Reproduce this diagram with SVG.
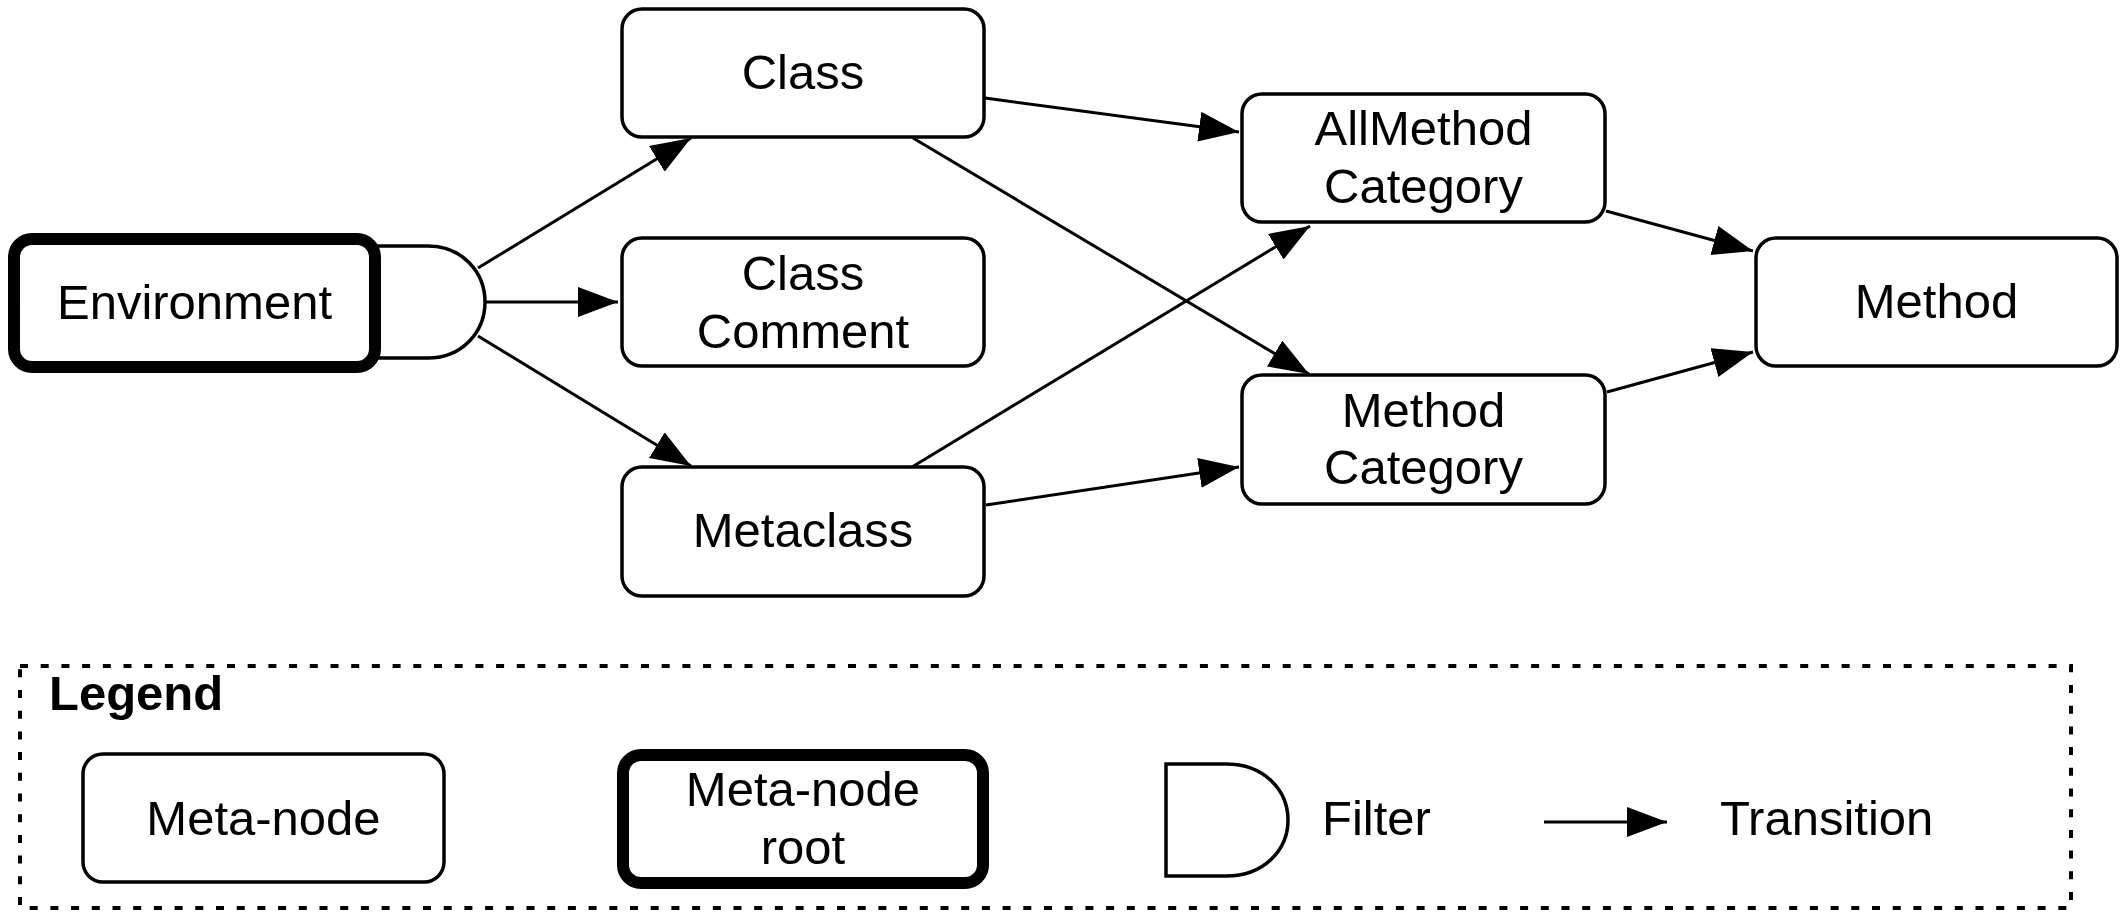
<svg xmlns="http://www.w3.org/2000/svg" width="2125" height="916" viewBox="0 0 2125 916">
<style>
.box{fill:#fff;stroke:#000;stroke-width:3.5}
.root{fill:#fff;stroke:#000;stroke-width:12}
.lbl{font-family:"Liberation Sans",Arial,sans-serif;font-size:49px;fill:#000;text-anchor:middle}
.conn line{stroke:#000;stroke-width:3;marker-end:url(#ah)}
.filter{fill:#fff;stroke:#000;stroke-width:3.5}
</style>
<defs>
<marker id="ah" markerUnits="userSpaceOnUse" markerWidth="42" markerHeight="32" refX="40" refY="15" orient="auto" viewBox="0 0 42 32">
<path d="M0,0 L40,15 L0,30 z" fill="#000"/>
</marker>
</defs>
<rect width="2125" height="916" fill="#fff"/>
<g id="conn" class="conn">
<line x1="478" y1="268" x2="691" y2="138"/>
<line x1="485" y1="302" x2="618" y2="302"/>
<line x1="478" y1="336" x2="691" y2="466"/>
<line x1="985" y1="98" x2="1239" y2="132"/>
<line x1="913" y1="138" x2="1309" y2="374"/>
<line x1="912" y1="467" x2="1310" y2="226"/>
<line x1="986" y1="505" x2="1239" y2="467"/>
<line x1="1606" y1="211" x2="1753" y2="251"/>
<line x1="1607" y1="392" x2="1753" y2="352"/>
</g>
<g id="environment">
<path class="filter" d="M370,246 H428 C462,246 485,272 485,302 C485,332 462,358 428,358 H370"/>
<rect class="root" x="14" y="239" width="361" height="128" rx="18"/>
<text class="lbl" x="194.5" y="319">Environment</text>
</g>
<g id="class">
<rect class="box" x="622" y="9" width="362" height="128" rx="20"/>
<text class="lbl" x="803" y="89">Class</text>
</g>
<g id="classcomment">
<rect class="box" x="622" y="238" width="362" height="128" rx="20"/>
<text class="lbl" x="803" y="290">Class</text>
<text class="lbl" x="803" y="348">Comment</text>
</g>
<g id="metaclass">
<rect class="box" x="622" y="467" width="362" height="129" rx="20"/>
<text class="lbl" x="803" y="547">Metaclass</text>
</g>
<g id="allmethodcategory">
<rect class="box" x="1242" y="94" width="363" height="128" rx="20"/>
<text class="lbl" x="1423.5" y="145">AllMethod</text>
<text class="lbl" x="1423.5" y="203">Category</text>
</g>
<g id="methodcategory">
<rect class="box" x="1242" y="375" width="363" height="129" rx="20"/>
<text class="lbl" x="1423.5" y="427">Method</text>
<text class="lbl" x="1423.5" y="484">Category</text>
</g>
<g id="method">
<rect class="box" x="1756" y="238" width="361" height="128" rx="20"/>
<text class="lbl" x="1936.5" y="318">Method</text>
</g>
<g id="legend">
<rect x="20" y="666" width="2051" height="242" fill="none" stroke="#000" stroke-width="4" stroke-dasharray="8 12.7"/>
<text x="49" y="710" font-family="'Liberation Sans',Arial,sans-serif" font-size="49" font-weight="bold">Legend</text>
<rect class="box" x="83" y="754" width="361" height="128" rx="20"/>
<text class="lbl" x="263.5" y="835">Meta-node</text>
<rect class="root" x="623" y="755" width="360" height="128" rx="18"/>
<text class="lbl" x="803" y="806">Meta-node</text>
<text class="lbl" x="803" y="864">root</text>
<path class="filter" d="M1166,764 H1226 C1264,764 1288,790 1288,820 C1288,850 1264,876 1226,876 H1166 Z"/>
<text x="1322" y="835" font-family="'Liberation Sans',Arial,sans-serif" font-size="49">Filter</text>
<line x1="1544" y1="822" x2="1667" y2="822" stroke="#000" stroke-width="3" marker-end="url(#ah)"/>
<text x="1720" y="835" font-family="'Liberation Sans',Arial,sans-serif" font-size="49">Transition</text>
</g>
</svg>
